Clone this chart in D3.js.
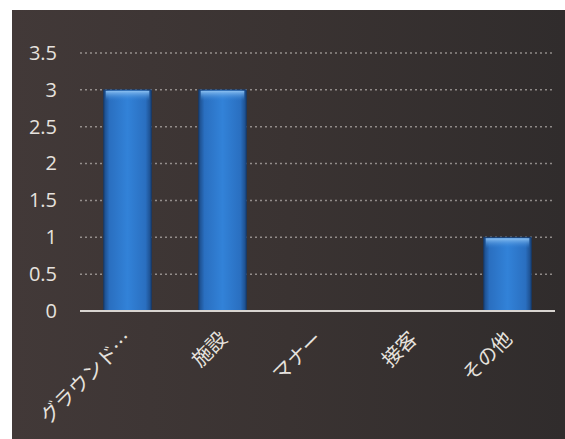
<!DOCTYPE html>
<html><head><meta charset="utf-8">
<script src="https://cdn.jsdelivr.net/npm/d3@7"></script>
<style>html,body{margin:0;padding:0;background:#fff;}svg{display:block;}</style>
</head><body>
<script>
const categories = ["グラウンド…", "施設", "マナー", "接客", "その他"];
const values = [3, 3, 0, 0, 1];
const yTicks = [0, 0.5, 1, 1.5, 2, 2.5, 3, 3.5];
const yTickLabels = ["0", "0.5", "1", "1.5", "2", "2.5", "3", "3.5"];

const W = 565, H = 439;
const svg = d3.select("body").append("svg").attr("width", W).attr("height", H);
const defs = svg.append("defs");

const bg = defs.append("linearGradient").attr("id", "bg").attr("x1", 0).attr("x2", 1).attr("y1", 0).attr("y2", 0);
bg.append("stop").attr("offset", 0).attr("stop-color", "#423938");
bg.append("stop").attr("offset", 0.5).attr("stop-color", "#3a3332");
bg.append("stop").attr("offset", 1).attr("stop-color", "#302c2c");

const bar = defs.append("linearGradient").attr("id", "bar").attr("x1", 0).attr("x2", 1).attr("y1", 0).attr("y2", 0);
bar.append("stop").attr("offset", 0).attr("stop-color", "#1b4a86");
bar.append("stop").attr("offset", 0.12).attr("stop-color", "#2a6fc0");
bar.append("stop").attr("offset", 0.5).attr("stop-color", "#3282d8");
bar.append("stop").attr("offset", 0.88).attr("stop-color", "#2a6fc0");
bar.append("stop").attr("offset", 1).attr("stop-color", "#1b4a86");

const topG = defs.append("linearGradient").attr("id", "bartop").attr("x1", 0).attr("x2", 0).attr("y1", 0).attr("y2", 1);
topG.append("stop").attr("offset", 0).attr("stop-color", "#8cc0f0");
topG.append("stop").attr("offset", 1).attr("stop-color", "#3282d8").attr("stop-opacity", 0);

svg.append("rect").attr("x", 12).attr("y", 10).attr("width", W - 12).attr("height", H - 10).attr("fill", "url(#bg)");

const x = d3.scaleBand().domain(categories).range([80, 555]).paddingInner(0.5).paddingOuter(0.25);
const y = d3.scaleLinear().domain([0, 3.5]).range([311, 53]);

// grid
svg.append("g").selectAll("line").data(yTicks.filter(d => d > 0)).join("line")
  .attr("x1", 80).attr("x2", 555)
  .attr("y1", d => y(d)).attr("y2", d => y(d))
  .attr("stroke", "#cfcac6").attr("stroke-opacity", 0.6)
  .attr("stroke-width", 1.5).attr("stroke-dasharray", "2,3");

// y axis labels
const yAxis = d3.axisLeft(y).tickValues(yTicks).tickFormat((d, i) => yTickLabels[i]).tickSize(0).tickPadding(0);
const ya = svg.append("g").attr("transform", "translate(57,0)").call(yAxis);
ya.select(".domain").remove();
ya.selectAll("text").attr("fill", "#e6e2de").attr("font-size", 20)
  .attr("font-family", "'Open Sans', 'Noto Sans', sans-serif");

// bars
const bars = svg.append("g").selectAll("g").data(categories.map((c, i) => ({c, v: values[i]})).filter(d => d.v > 0)).join("g");
bars.append("rect")
  .attr("x", d => x(d.c)).attr("width", x.bandwidth())
  .attr("y", d => y(d.v)).attr("height", d => y(0) - y(d.v))
  .attr("fill", "url(#bar)").attr("stroke", "#163a6a").attr("stroke-width", 1);
bars.append("rect")
  .attr("x", d => x(d.c) + 2).attr("width", x.bandwidth() - 4)
  .attr("y", d => y(d.v) + 1).attr("height", 10)
  .attr("fill", "url(#bartop)");

// baseline
svg.append("line").attr("x1", 80).attr("x2", 555).attr("y1", y(0)).attr("y2", y(0))
  .attr("stroke", "#d8d4d0").attr("stroke-width", 2);

// x labels
const xAxis = d3.axisBottom(x).tickSize(0).tickPadding(0);
const xa = svg.append("g").attr("transform", `translate(0,${y(0)})`).call(xAxis);
xa.select(".domain").remove();
xa.selectAll("text")
  .attr("fill", "#e6e2de").attr("font-size", 20)
  .attr("font-family", "'Noto Sans CJK JP', sans-serif")
  .attr("text-anchor", "end").attr("dy", 0)
  .attr("transform", "translate(6,29) rotate(-45)");
</script>
</body></html>
